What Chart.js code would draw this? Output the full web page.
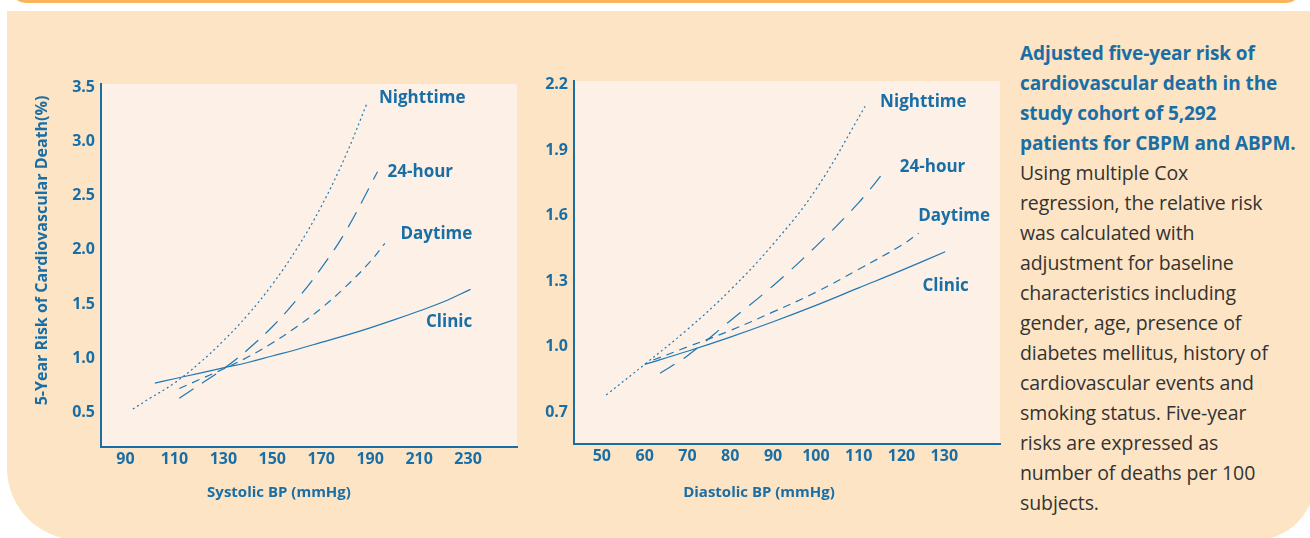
<!DOCTYPE html>
<html>
<head>
<meta charset="utf-8">
<script src="https://cdn.jsdelivr.net/npm/chart.js@4.4.1/dist/chart.umd.min.js"></script>
<style>
  html, body { margin: 0; padding: 0; background: #fff; width: 1310px; height: 538px; overflow: hidden; position: relative; font-family: "Open Sans", sans-serif; }
  .topbar { position: absolute; left: 10px; top: -20px; width: 1292px; height: 23px; background: #fbb45c; border-radius: 0 0 16px 16px; }
  .panel { position: absolute; left: 7px; top: 11px; width: 1308px; height: 529px; background: #fde4c4; border-radius: 0 0 60px 72px; }
  .box { position: absolute; }
  .note { position: absolute; left: 1020px; top: 38px; line-height: 30px; font-size: 19.5px; color: #333; white-space: nowrap; letter-spacing: -0.1px; }
  .note b { color: #1a6ea6; font-weight: 700; font-size: 19px; }
</style>
</head>
<body>
<div class="topbar"></div>
<div class="panel"></div>
<div class="box" style="left:20px;top:60px;"><canvas id="sysChart" width="510" height="455"></canvas></div>
<div class="box" style="left:530px;top:60px;"><canvas id="diaChart" width="475" height="455"></canvas></div>
<div class="note"><b>Adjusted five-year risk of<br>cardiovascular death in the<br>study cohort of 5,292<br>patients for CBPM and ABPM.</b><br>Using multiple Cox<br>regression, the relative risk<br>was calculated with<br>adjustment for baseline<br>characteristics including<br>gender, age, presence of<br>diabetes mellitus, history of<br>cardiovascular events and<br>smoking status. Five-year<br>risks are expressed as<br>number of deaths per 100<br>subjects.</div>

<script>
  // --- data ---
  const seriesNames = ["Nighttime", "24-hour", "Daytime", "Clinic"];

  // Systolic BP (left)
  const sysTicksX = [90, 110, 130, 150, 170, 190, 210, 230];
  const sysTicksY = [0.5, 1.0, 1.5, 2.0, 2.5, 3.0, 3.5];
  const sysNightX = [93, 100, 110, 120, 130, 140, 150, 160, 170, 180, 188.5];
  const sysNightY = [0.53, 0.63, 0.77, 0.95, 1.16, 1.40, 1.68, 2.01, 2.40, 2.87, 3.34];
  const sys24X = [112, 120, 130, 140, 150, 160, 170, 180, 193];
  const sys24Y = [0.63, 0.75, 0.90, 1.08, 1.29, 1.54, 1.83, 2.17, 2.72];
  const sysDayX = [112, 120, 130, 140, 150, 160, 170, 180, 190, 196];
  const sysDayY = [0.72, 0.80, 0.90, 1.01, 1.14, 1.29, 1.46, 1.66, 1.89, 2.06];
  const sysClinicX = [102, 110, 120, 130, 140, 150, 160, 170, 180, 190, 200, 210, 220, 231];
  const sysClinicY = [0.77, 0.81, 0.86, 0.91, 0.96, 1.02, 1.08, 1.145, 1.21, 1.28, 1.355, 1.435, 1.52, 1.635];

  // Diastolic BP (right)
  const diaTicksX = [50, 60, 70, 80, 90, 100, 110, 120, 130];
  const diaTicksY = [0.7, 1.0, 1.3, 1.6, 1.9, 2.2];
  const diaNightX = [51, 60, 70, 80, 90, 100, 111.5];
  const diaNightY = [0.78, 0.92, 1.08, 1.26, 1.47, 1.72, 2.10];
  const dia24X = [63.6, 70, 80, 90, 100, 110, 116.5];
  const dia24Y = [0.88, 0.96, 1.12, 1.28, 1.46, 1.66, 1.815];
  const diaDayX = [62, 70, 80, 90, 100, 110, 120, 124];
  const diaDayY = [0.94, 1.00, 1.075, 1.16, 1.25, 1.355, 1.465, 1.52];
  const diaClinicX = [60, 70, 80, 90, 100, 110, 120, 130.2];
  const diaClinicY = [0.92, 0.98, 1.045, 1.115, 1.19, 1.27, 1.35, 1.435];

  const BLUE = "#1a6ea6";
  const LINE = "#1f78b4";
  const FONT = "'Open Sans', sans-serif";

  const toPoints = (xs, ys) => xs.map((x, i) => ({ x: x, y: ys[i] }));

  // light plot background
  const plotBg = {
    id: "plotBg",
    beforeDraw: (chart) => {
      const a = chart.chartArea;
      const ctx = chart.ctx;
      ctx.save();
      ctx.fillStyle = "#fdf0e6";
      ctx.fillRect(a.left, a.top, a.right - a.left, a.bottom - a.top);
      ctx.restore();
    }
  };

  // names written next to each curve + axis titles
  const textMarks = {
    id: "textMarks",
    afterDraw: (chart, args, opts) => {
      const ctx = chart.ctx;
      const a = chart.chartArea;
      const xs = chart.scales.x, ys = chart.scales.y;
      ctx.save();
      ctx.fillStyle = BLUE;
      ctx.textBaseline = "middle";
      ctx.font = "bold 17px " + FONT;
      ctx.textAlign = "left";
      opts.labels.forEach((l, i) => {
        ctx.fillText(seriesNames[i], xs.getPixelForValue(l[0]), ys.getPixelForValue(l[1]));
      });
      ctx.font = "bold 15px " + FONT;
      ctx.textAlign = "center";
      ctx.fillText(opts.xTitle, (a.left + a.right) / 2 + opts.xTitleDx, a.bottom + opts.xTitleDy);
      if (opts.yTitle) {
        ctx.translate(a.left + opts.yTitleDx, (a.top + a.bottom) / 2 + opts.yTitleDy);
        ctx.rotate(-Math.PI / 2);
        ctx.font = "bold 16px " + FONT;
        ctx.fillText(opts.yTitle, 0, 0);
      }
      ctx.restore();
    }
  };

  function makeDataset(xs, ys, dash) {
    return {
      data: toPoints(xs, ys),
      borderColor: LINE,
      borderWidth: 1.2,
      borderDash: dash,
      pointRadius: 0,
      fill: false,
      tension: 0.4
    };
  }

  function axis(min, max, ticks, fixed, pad, fmt) {
    return {
      type: "linear",
      min: min,
      max: max,
      afterBuildTicks: (s) => { s.ticks = ticks.map(v => ({ value: v })); },
      afterFit: (s) => { Object.assign(s, fixed); },
      grid: { display: false, drawTicks: false },
      border: { display: true, color: BLUE, width: 2 },
      ticks: {
        color: BLUE,
        padding: pad,
        autoSkip: false,
        maxRotation: 0,
        font: { family: FONT, size: 16, weight: "bold" },
        callback: fmt
      }
    };
  }

  const sysChart = new Chart(document.getElementById("sysChart"), {
    type: "line",
    data: {
      datasets: [
        makeDataset(sysNightX, sysNightY, [2, 3]),
        makeDataset(sys24X, sys24Y, [17, 10]),
        makeDataset(sysDayX, sysDayY, [8, 6]),
        makeDataset(sysClinicX, sysClinicY, [])
      ]
    },
    options: {
      responsive: false,
      animation: false,
      layout: { padding: { top: 24, right: 13, left: 0, bottom: 0 } },
      plugins: {
        legend: { display: false },
        tooltip: { enabled: false },
        textMarks: {
          labels: [[193.6, 3.40], [197.1, 2.72], [202.4, 2.14], [212.8, 1.33]],
          xTitle: "Systolic BP (mmHg)", xTitleDx: -30, xTitleDy: 46,
          yTitle: "5-Year Risk of Cardiovascular Death(%)", yTitleDx: -59, yTitleDy: -15
        }
      },
      scales: {
        x: axis(80, 250, sysTicksX, { height: 68 }, 3, v => v),
        y: axis(0.18, 3.53, sysTicksY, { width: 81 }, 6, v => v.toFixed(1))
      }
    },
    plugins: [plotBg, textMarks]
  });

  const diaChart = new Chart(document.getElementById("diaChart"), {
    type: "line",
    data: {
      datasets: [
        makeDataset(diaNightX, diaNightY, [2, 3]),
        makeDataset(dia24X, dia24Y, [17, 11]),
        makeDataset(diaDayX, diaDayY, [8, 6]),
        makeDataset(diaClinicX, diaClinicY, [])
      ]
    },
    options: {
      responsive: false,
      animation: false,
      layout: { padding: { top: 21, right: 5, left: 0, bottom: 0 } },
      plugins: {
        legend: { display: false },
        tooltip: { enabled: false },
        textMarks: {
          labels: [[115, 2.12], [119.6, 1.824], [123.9, 1.599], [124.9, 1.278]],
          xTitle: "Diastolic BP (mmHg)", xTitleDx: -28, xTitleDy: 49
        }
      },
      scales: {
        x: axis(43.5, 143, diaTicksX, { height: 71 }, 3, v => v),
        y: axis(0.556, 2.216, diaTicksY, { width: 44 }, 6, v => v.toFixed(1))
      }
    },
    plugins: [plotBg, textMarks]
  });
</script>
</body>
</html>
